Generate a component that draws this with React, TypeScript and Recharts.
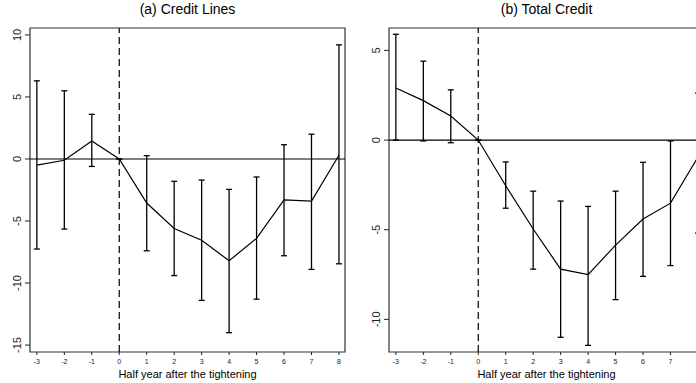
import React from "react";
import {
  LineChart,
  Line,
  XAxis,
  YAxis,
  ErrorBar,
  ReferenceLine,
  ReferenceArea,
} from "recharts";

// half years relative to the tightening
const periods = [-3, -2, -1, 0, 1, 2, 3, 4, 5, 6, 7, 8];

// (a) Credit Lines: estimate and 95% band
const linesEst = [-0.5, -0.1, 1.45, 0, -3.55, -5.6, -6.55, -8.2, -6.4, -3.3, -3.4, 0.3];
const linesUpper = [6.3, 5.5, 3.6, 0, 0.27, -1.8, -1.7, -2.45, -1.45, 1.15, 2.0, 9.2];
const linesLower = [-7.26, -5.65, -0.6, 0, -7.4, -9.4, -11.4, -14.0, -11.3, -7.8, -8.9, -8.45];

// (b) Total Credit
const totalEst = [2.9, 2.2, 1.34, 0, -2.55, -4.96, -7.2, -7.5, -5.86, -4.4, -3.52, -0.95];
const totalUpper = [5.9, 4.4, 2.8, 0, -1.22, -2.85, -3.4, -3.7, -2.85, -1.24, -0.05, 2.62];
const totalLower = [0, -0.05, -0.15, 0, -3.8, -7.2, -11.0, -11.45, -8.9, -7.6, -7.0, -5.19];

const linesTicks = [10, 5, 0, -5, -10, -15];
const totalTicks = [5, 0, -5, -10];
// the 8 tick of panel (b) falls outside the cropped picture
const linesXTicks = periods;
const totalXTicks = periods.slice(0, -1);

const FONT = "'Liberation Sans', Arial, sans-serif";
const INK = "#222";

const buildRows = (est: number[], upper: number[], lower: number[]) =>
  periods.map((p, i) => ({
    x: p,
    est: est[i],
    err: [est[i] - lower[i], upper[i] - est[i]],
  }));

const RotatedTick = (props: any) => {
  const { x, y, payload } = props;
  return (
    <g transform={`translate(${x - 2},${y})`}>
      <text
        transform="rotate(-90)"
        textAnchor="middle"
        fontSize={11}
        fontFamily={FONT}
        fill={INK}
      >
        {payload.value}
      </text>
    </g>
  );
};

interface PanelProps {
  title: string;
  rows: ReturnType<typeof buildRows>;
  yDomain: [number, number];
  yTicks: number[];
  xTicks: number[];
  left: number;
  width: number;
  yAxisWidth: number;
}

const XDOMAIN: [number, number] = [-3.25, 8.22];

const Panel = ({ title, rows, yDomain, yTicks, xTicks, left, width, yAxisWidth }: PanelProps) => {
  const plotLeft = yAxisWidth;
  const plotWidth = width - yAxisWidth - 5;
  return (
    <div style={{ position: "absolute", left, top: 0, width, height: 383 }}>
      <div
        style={{
          position: "absolute",
          left: plotLeft,
          width: plotWidth,
          top: 0,
          textAlign: "center",
          fontFamily: FONT,
          fontSize: 14,
          lineHeight: "18px",
          color: "#000",
        }}
      >
        {title}
      </div>
      <LineChart
        width={width}
        height={383}
        data={rows}
        margin={{ top: 28, right: 5, left: 0, bottom: 0 }}
      >
        <XAxis
          type="number"
          dataKey="x"
          domain={XDOMAIN}
          ticks={xTicks}
          allowDataOverflow
          axisLine={false}
          tickSize={3}
          tickMargin={4}
          tickLine={{ stroke: INK }}
          tick={{ fontSize: 7, fill: INK, fontFamily: FONT }}
          height={31}
          label={{
            value: "Half year after the tightening",
            position: "insideBottom",
            offset: 5,
            fontSize: 11,
            fill: "#000",
            fontFamily: FONT,
          }}
        />
        <YAxis
          type="number"
          domain={yDomain}
          ticks={yTicks}
          allowDataOverflow
          axisLine={false}
          width={yAxisWidth}
          tickSize={5}
          tickMargin={2}
          tickLine={{ stroke: INK }}
          tick={<RotatedTick />}
        />
        <ReferenceArea
          x1={XDOMAIN[0]}
          x2={XDOMAIN[1]}
          y1={yDomain[0]}
          y2={yDomain[1]}
          fill="none"
          stroke="#333"
          strokeWidth={1.2}
          ifOverflow="extendDomain"
        />
        <ReferenceLine y={0} stroke="#000" strokeWidth={1.2} />
        <ReferenceLine x={0} stroke="#000" strokeWidth={1.2} strokeDasharray="7 4" />
        <Line
          type="linear"
          dataKey="est"
          stroke="#000"
          strokeWidth={1.2}
          dot={false}
          isAnimationActive={false}
        >
          <ErrorBar
            dataKey="err"
            direction="y"
            width={3}
            stroke="#000"
            strokeWidth={1.3}
            isAnimationActive={false}
          />
        </Line>
      </LineChart>
    </div>
  );
};

export default function App() {
  return (
    <div
      style={{
        position: "absolute",
        left: 0,
        top: 0,
        width: 696,
        height: 383,
        overflow: "hidden",
        background: "#fff",
      }}
    >
      <Panel
        title="(a) Credit Lines"
        rows={buildRows(linesEst, linesUpper, linesLower)}
        yDomain={[-15.56, 10.56]}
        yTicks={linesTicks}
        xTicks={linesXTicks}
        left={0}
        width={350}
        yAxisWidth={30}
      />
      <Panel
        title="(b) Total Credit"
        rows={buildRows(totalEst, totalUpper, totalLower)}
        yDomain={[-11.82, 6.25]}
        yTicks={totalTicks}
        xTicks={totalXTicks}
        left={345}
        width={364}
        yAxisWidth={44}
      />
    </div>
  );
}
